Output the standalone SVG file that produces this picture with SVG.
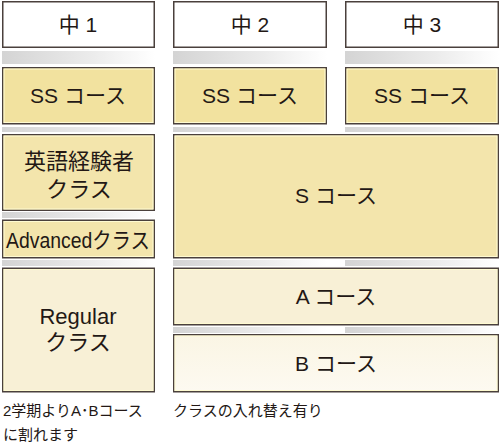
<svg xmlns="http://www.w3.org/2000/svg" width="500" height="444" viewBox="0 0 500 444">
<defs>
<linearGradient id="band" x1="0" y1="0" x2="1" y2="0">
<stop offset="0" stop-color="#d4d4d4"/>
<stop offset="0.6" stop-color="#ececec"/>
<stop offset="1" stop-color="#ffffff"/>
</linearGradient>
<linearGradient id="bfill" x1="0" y1="0" x2="0" y2="1">
<stop offset="0" stop-color="#faf5e4"/>
<stop offset="1" stop-color="#fdfaf1"/>
</linearGradient>
</defs>
<style>
.box{stroke:#4a403c;stroke-width:1.5}
.hl{fill:none;stroke:#fffbd2;stroke-width:1}
.head{fill:#ffffff}
.ss{fill:#f2e29f}
.mid{fill:#f3e5ac}
.reg{fill:#f8f0d6}
.b{fill:url(#bfill)}
.band{fill:url(#band)}
text{font-family:"Liberation Sans","Noto Sans CJK JP",sans-serif;fill:#231815;text-anchor:middle}
.t20{font-size:21px}
.t21{font-size:21px}
.t22{font-size:22px}
.note{font-size:15px;text-anchor:start}
</style>
<rect width="500" height="444" fill="#ffffff"/>
<g id="bands">
<rect class="band" x="2" y="51" width="153" height="13"/>
<rect class="band" x="173" y="51" width="154" height="13"/>
<rect class="band" x="345" y="51" width="154" height="13"/>
<rect class="band" x="2" y="127" width="153" height="5"/>
<rect class="band" x="173" y="127" width="154" height="5"/>
<rect class="band" x="345" y="127" width="154" height="5"/>
<rect class="band" x="2" y="212" width="153" height="6"/>
<rect class="band" x="2" y="260" width="153" height="6"/>
<rect class="band" x="173" y="260" width="154" height="6"/>
<rect class="band" x="345" y="260" width="154" height="6"/>
<rect class="band" x="173" y="327" width="154" height="6"/>
<rect class="band" x="345" y="327" width="154" height="6"/>
</g>
<g id="connectors"/>
<g id="h1"><rect class="box head" x="2.75" y="1.75" width="151.5" height="45.5"/><text class="t20" x="78" y="32">中 1</text></g>
<g id="h2"><rect class="box head" x="173.75" y="1.75" width="152.5" height="45.5"/><text class="t20" x="250" y="32">中 2</text></g>
<g id="h3"><rect class="box head" x="345.75" y="1.75" width="152.5" height="45.5"/><text class="t20" x="422" y="32">中 3</text></g>
<g id="ss1"><rect class="box ss" x="2.75" y="67.75" width="151.5" height="56"/><rect class="hl" x="4" y="69" width="149" height="53.5"/><text class="t21" x="78" y="103">SS コース</text></g>
<g id="ss2"><rect class="box ss" x="173.75" y="67.75" width="152.5" height="56"/><rect class="hl" x="175" y="69" width="150" height="53.5"/><text class="t21" x="250" y="103">SS コース</text></g>
<g id="ss3"><rect class="box ss" x="345.75" y="67.75" width="152.5" height="56"/><rect class="hl" x="347" y="69" width="150" height="53.5"/><text class="t21" x="422" y="103">SS コース</text></g>
<g id="eigo"><rect class="box mid" x="2.75" y="134.75" width="151.5" height="75.5"/><rect class="hl" x="4" y="136" width="149" height="73"/><text class="t22" x="79" y="169">英語経験者</text><text class="t22" x="79" y="197">クラス</text></g>
<g id="adv"><rect class="box mid" x="2.75" y="220.25" width="151.5" height="37.5"/><rect class="hl" x="4" y="221.5" width="149" height="35"/><text class="t22" x="78" y="248" textLength="144" lengthAdjust="spacingAndGlyphs">Advancedクラス</text></g>
<g id="s"><rect class="box mid" x="173.75" y="134.75" width="324.5" height="123"/><rect class="hl" x="175" y="136" width="322" height="120.5"/><text class="t21" x="336" y="203">S コース</text></g>
<g id="regular"><rect class="box reg" x="2.75" y="268.25" width="151.5" height="123.5"/><rect class="hl" x="4" y="269.5" width="149" height="121"/><text class="t22" x="78" y="324">Regular</text><text class="t22" x="78" y="350">クラス</text></g>
<g id="a"><rect class="box reg" x="173.75" y="268.25" width="324.5" height="56.5"/><rect class="hl" x="175" y="269.5" width="322" height="54"/><text class="t21" x="336" y="304">A コース</text></g>
<g id="b"><rect class="box b" x="173.75" y="334.75" width="324.5" height="57"/><rect class="hl" x="175" y="336" width="322" height="54.5"/><text class="t21" x="336" y="371">B コース</text></g>
<g id="notes">
<text class="note" x="3" y="416">2学期よりA･Bコース</text>
<text class="note" x="3" y="440">に割れます</text>
<text class="note" x="173" y="416">クラスの入れ替え有り</text>
</g>
</svg>
